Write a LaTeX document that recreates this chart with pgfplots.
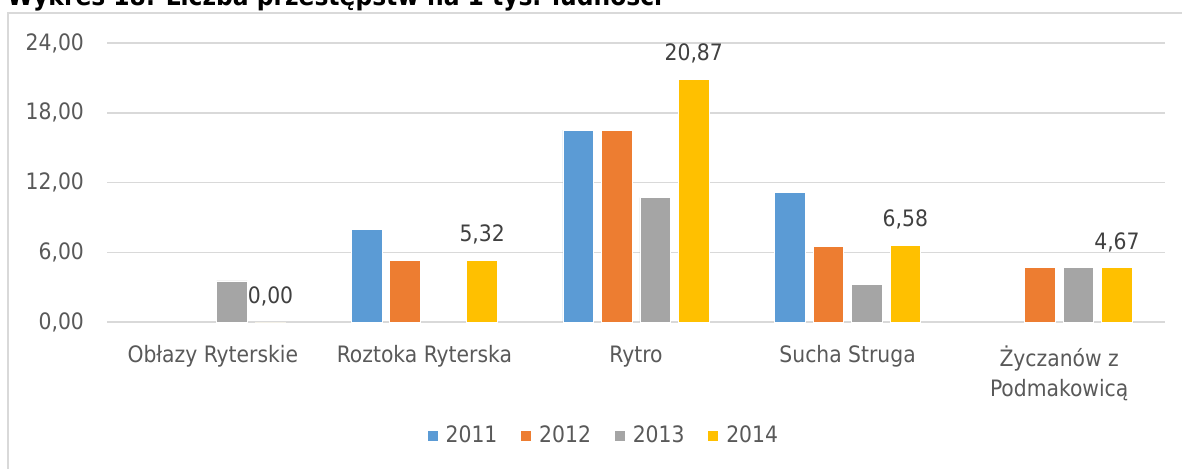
\documentclass[border=0pt]{standalone}
\usepackage{fontspec}
\setmainfont{DejaVu Sans Condensed}
\usepackage{pgfplots}
\pgfplotsset{compat=1.18}

\definecolor{s11}{HTML}{5B9BD5}
\definecolor{s12}{HTML}{ED7D31}
\definecolor{s13}{HTML}{A5A5A5}
\definecolor{s14}{HTML}{FFC000}
\definecolor{gridc}{HTML}{D9D9D9}
\definecolor{tickc}{HTML}{595959}
\definecolor{labc}{HTML}{404040}

\begin{document}
\begin{tikzpicture}
  \useasboundingbox (0pt,0pt) rectangle (591pt,234pt);
  \clip (0pt,0pt) rectangle (591pt,234pt);
  % frame of the chart area
  \draw[gridc, line width=1pt] (4pt,-5pt) -- (4pt,227.5pt) -- (600pt,227.5pt);
  % title, cut at the top
  \node[anchor=base west, inner sep=0pt, font=\bfseries\fontsize{13}{14}\selectfont]
    at (3.5pt,231.5pt) {Wykres 18. Liczba przestępstw na 1 tys. ludności};

  \begin{axis}[
      at={(53.5pt,73pt)}, anchor=south west,
      scale only axis,
      width=529pt, height=139.5pt,
      ymin=0, ymax=24, ytick={0,6,...,24},
      xmin=-0.5, xmax=4.5, xtick={0,...,4},
      xticklabels={Obłazy Ryterskie, Roztoka Ryterska, Rytro, Sucha Struga,
                   {Życzanów z\\Podmakowicą}},
      ybar=3.9pt, bar width=15.35pt,
      ymajorgrids, grid style={gridc, line width=0.75pt},
      axis line style={draw=none}, tick style={draw=none},
      font=\fontsize{11.3}{15}\selectfont,
      yticklabel style={text=tickc, xshift=-8pt,
        /pgf/number format/.cd, fixed, fixed zerofill, precision=2,
        use comma, assume math mode=true},
      xticklabel style={text=tickc, align=center, yshift=-4pt},
      legend style={at={(0.4716,-0.4086)}, anchor=center, draw=none,
        text=tickc, font=\fontsize{11.3}{12}\selectfont,
        nodes={inner xsep=3.5pt},
        /tikz/every even column/.append style={column sep=8pt}},
      legend columns=4,
      legend image code/.code={\fill[#1] (0pt,-2.75pt) rectangle (5.5pt,2.75pt);},
      every axis plot/.append style={draw=white, line width=0.4pt},
    ]
    \addplot[fill=s11] coordinates {(1,7.94) (2,16.51) (3,11.14)};
    \addplot[fill=s12] coordinates {(1,5.32) (2,16.51) (3,6.52) (4,4.67)};
    \addplot[fill=s13] coordinates {(0,3.53) (2,10.71) (3,3.23) (4,4.67)};
    \addplot[fill=s14,
      nodes near coords={\pgfmathprintnumber[fixed, fixed zerofill, precision=2,
        use comma, assume math mode=true]{\pgfplotspointmeta}},
      nodes near coords style={text=labc, yshift=4.5pt,
        font=\fontsize{11.3}{12}\selectfont}]
      coordinates {(0,0) (1,5.32) (2,20.87) (3,6.58) (4,4.67)};
    \legend{2011, 2012, 2013, 2014}
  \end{axis}
\end{tikzpicture}
\end{document}
